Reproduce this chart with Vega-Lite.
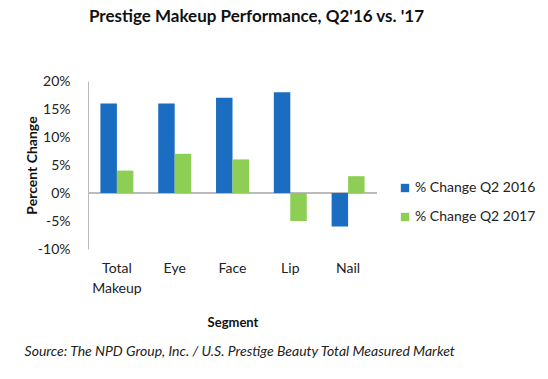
{
  "$schema": "https://vega.github.io/schema/vega-lite/v6.json",
  "padding": {"left": 24, "top": 8, "right": 10, "bottom": 10},
  "background": "white",
  "title": {"text": "Source: The NPD Group, Inc. / U.S. Prestige Beauty Total Measured Market", "orient": "bottom", "anchor": "middle", "fontStyle": "italic", "fontWeight": "normal", "fontSize": 14, "font": "Lato", "color": "#222", "offset": 16, "dx": -41},
  "vconcat": [
    {
      "title": {"text": "Prestige Makeup Performance, Q2'16 vs. '17", "fontSize": 17, "font": "Lato", "fontWeight": "bold", "color": "#111", "anchor": "middle", "offset": 48, "dx": 24},
      "width": 289,
      "height": 168,
      "data": {"values": [
        {"segment": "Total Makeup", "series": "% Change Q2 2016", "value": 16},
        {"segment": "Total Makeup", "series": "% Change Q2 2017", "value": 4},
        {"segment": "Eye", "series": "% Change Q2 2016", "value": 16},
        {"segment": "Eye", "series": "% Change Q2 2017", "value": 7},
        {"segment": "Face", "series": "% Change Q2 2016", "value": 17},
        {"segment": "Face", "series": "% Change Q2 2017", "value": 6},
        {"segment": "Lip", "series": "% Change Q2 2016", "value": 18},
        {"segment": "Lip", "series": "% Change Q2 2017", "value": -5},
        {"segment": "Nail", "series": "% Change Q2 2016", "value": -6},
        {"segment": "Nail", "series": "% Change Q2 2017", "value": 3}
      ]},
      "layer": [
        {
          "mark": {"type": "rule", "color": "#bbbbbb", "strokeWidth": 1},
          "encoding": {"y": {"datum": 0, "type": "quantitative",
              "scale": {"domain": [-10, 20], "nice": false},
              "axis": {"title": "Percent Change", "titleFont": "Lato", "titleFontSize": 14, "titleFontWeight": "bold", "titleColor": "#111", "titlePadding": -2,
                "values": [-10, -5, 0, 5, 10, 15, 20], "labelExpr": "datum.value + '%'", "labelOverlap": false,
                "labelFont": "Lato", "labelFontSize": 14, "labelColor": "#222", "labelPadding": 18,
                "grid": false, "ticks": false, "domain": true, "domainColor": "#bbbbbb"}}}
        },
        {
          "mark": {"type": "bar"},
          "encoding": {
            "x": {"field": "segment", "type": "nominal", "sort": null,
              "scale": {"paddingInner": 0.43, "paddingOuter": 0.215},
              "axis": {"title": "Segment", "titleFont": "Lato", "titleFontSize": 13, "titleFontWeight": "bold", "titleColor": "#111", "titlePadding": 21,
                "labelAngle": 0, "labelFont": "Lato", "labelFontSize": 14, "labelColor": "#222", "labelPadding": 12, "labelLineHeight": 20,
                "labelExpr": "datum.label == 'Total Makeup' ? ['Total', 'Makeup'] : datum.label",
                "domain": false, "ticks": false}},
            "xOffset": {"field": "series", "type": "nominal"},
            "y": {"field": "value", "type": "quantitative",
              "scale": {"domain": [-10, 20], "nice": false},
              "axis": {"title": "Percent Change", "titleFont": "Lato", "titleFontSize": 14, "titleFontWeight": "bold", "titleColor": "#111", "titlePadding": -2,
                "values": [-10, -5, 0, 5, 10, 15, 20], "labelExpr": "datum.value + '%'", "labelOverlap": false,
                "labelFont": "Lato", "labelFontSize": 14, "labelColor": "#222", "labelPadding": 18,
                "grid": false, "ticks": false, "domain": true, "domainColor": "#bbbbbb"}},
            "color": {"field": "series", "type": "nominal",
              "scale": {"domain": ["% Change Q2 2016", "% Change Q2 2017"], "range": ["#1b6dc1", "#8dcf55"]},
              "legend": {"title": null, "orient": "none", "legendX": 310, "legendY": 100, "symbolType": "square", "symbolSize": 70, "symbolStrokeWidth": 0,
                "labelFont": "Lato", "labelFontSize": 14, "labelColor": "#222", "rowPadding": 15, "labelOffset": 3}}
          }
        }
      ]
    }
  ],
  "config": {"view": {"stroke": null}, "font": "Lato"}
}
